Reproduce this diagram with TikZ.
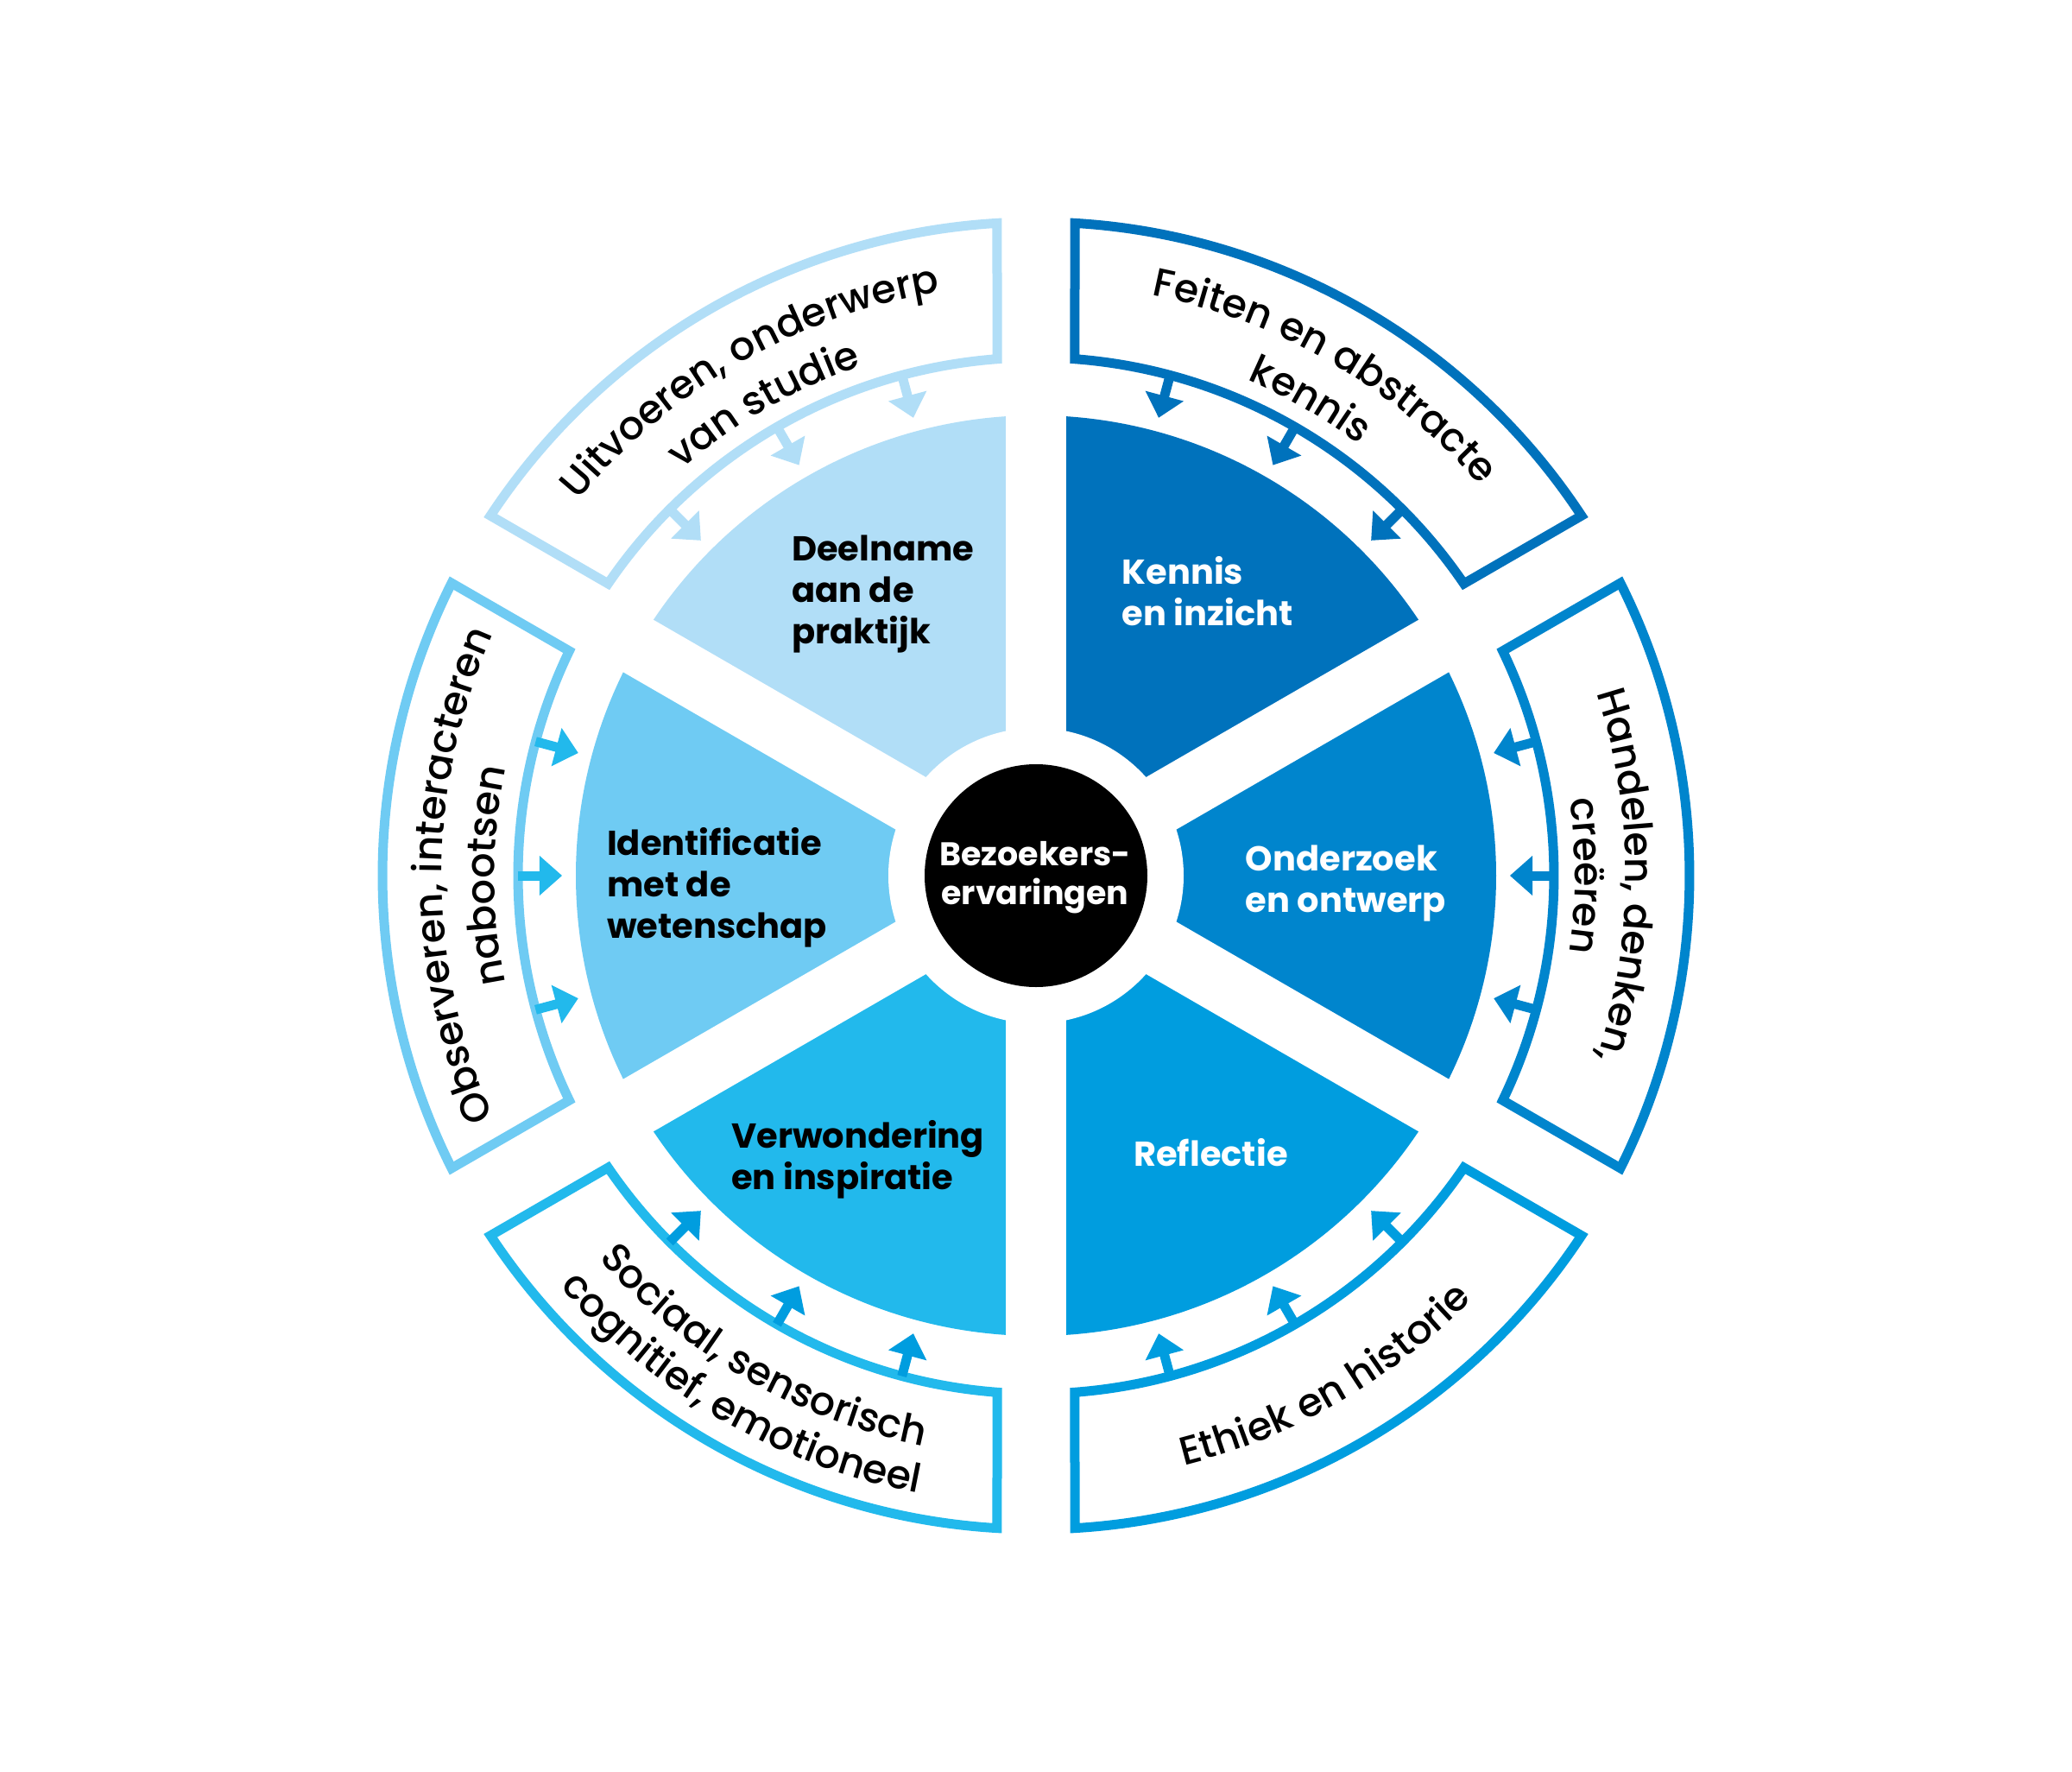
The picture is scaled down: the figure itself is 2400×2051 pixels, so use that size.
\documentclass[tikz,border=0pt]{standalone}
\usepackage{fontspec}
\setmainfont{Poppins}
\newfontfamily\ringfam{Poppins Medium}
\usetikzlibrary{decorations.text}
\definecolor{cA}{HTML}{B1DEF7}
\definecolor{cB}{HTML}{0072BC}
\definecolor{cC}{HTML}{0085CD}
\definecolor{cD}{HTML}{009DDF}
\definecolor{cE}{HTML}{22B9EC}
\definecolor{cF}{HTML}{6FCBF3}
\newcommand\wfont{\fontsize{40}{48}\selectfont\bfseries}
\newcommand\cfont{\fontsize{38}{45}\selectfont\bfseries}
\newcommand\bxf{\ringfam\fontsize{46}{56}\selectfont}
% sector: start angle, end angle, colour
\newcommand\sectorfill[3]{\fill[#3] (0,0) -- (#1:533pt) arc[start angle=#1, end angle=#2, radius=533pt] -- cycle;}
% outlined ring box centred on angle #1
\newcommand\ringbox[2]{\draw[boxline, draw=#2] ({#1-30+3.41}:757pt) arc[start angle={#1-30+3.41}, end angle={#1+30-3.41}, radius=757pt] -- ({#1+30-4.30}:600pt) arc[start angle={#1+30-4.30}, end angle={#1-30+4.30}, radius=600pt] -- cycle;}
% inward arrow at angle #1
\newcommand\inarrow[2]{\begin{scope}[rotate=#1]
\draw[#2, line width=11pt] (600pt,0) -- (572pt,0);
\fill[#2] (549pt,0) -- (575pt,23pt) -- (575pt,-23pt) -- cycle;
\end{scope}}
\tikzset{
  boxline/.style={line width=11pt, line join=miter},
  wlabel/.style={font=\wfont, align=left, anchor=base west, inner sep=0pt},
  clabel/.style={font=\cfont, align=center, anchor=base, inner sep=0pt, text=white},
}
\begin{document}
\begin{tikzpicture}
\useasboundingbox (-1200pt,-1037pt) rectangle (1200pt,1014pt);
\fill[white] (-1200pt,-1037pt) rectangle (1200pt,1014pt);
% sectors
\sectorfill{90}{150}{cA}
\sectorfill{30}{90}{cB}
\sectorfill{-30}{30}{cC}
\sectorfill{-90}{-30}{cD}
\sectorfill{210}{270}{cE}
\sectorfill{150}{210}{cF}
% gaps
\foreach \a in {90,30,150} \draw[white, line width=70pt] (\a:560pt) -- ({\a+180}:560pt);
\fill[white] (0,0) circle[radius=171pt];
\node[circle, fill=black, minimum size=258pt, inner sep=0pt] (core) at (0,0) {};
% (base anchor = baseline of the last line)
\node[clabel] (corelbl) at (-1pt,-33pt) {Bezoekers-\\ervaringen};
% sector labels
\node[wlabel] (deelname) at (-283pt,269pt) {Deelname\\aan de\\praktijk};
\node[wlabel, text=white] (kennis) at (99.5pt,290pt) {Kennis\\en inzicht};
\node[wlabel] (ident) at (-497pt,-72pt) {Identificatie\\met de\\wetenschap};
\node[wlabel, text=white] (onderzoek) at (242.6pt,-42.7pt) {Onderzoek\\en ontwerp};
\node[wlabel] (verw) at (-353pt,-363.5pt) {Verwondering\\en inspiratie};
\node[wlabel, text=white] (reflectie) at (113pt,-336pt) {Reflectie};
% ring boxes
\ringbox{120}{cA}
\ringbox{60}{cB}
\ringbox{0}{cC}
\ringbox{300}{cD}
\ringbox{240}{cE}
\ringbox{180}{cF}
% arrows
\foreach \a in {105,120,135} {\inarrow{\a}{cA}}
\foreach \a in {45,60,75} {\inarrow{\a}{cB}}
\foreach \a in {-15,0,15} {\inarrow{\a}{cC}}
\foreach \a in {285,300,315} {\inarrow{\a}{cD}}
\foreach \a in {225,240,255} {\inarrow{\a}{cD}}
\foreach \a in {165,180,195} {\inarrow{\a}{cE}}
% ring texts (outward tops: clockwise arcs)
\path[decorate, decoration={text along path, text align=center, text={|\bxf|Uitvoeren, onderwerp}}] (200:685pt) arc[start angle=200, end angle=40, radius=685pt];
\path[decorate, decoration={text along path, text align=center, text={|\bxf|van studie}}] (200:624pt) arc[start angle=200, end angle=40, radius=624pt];
\path[decorate, decoration={text along path, text align=center, text={|\bxf|Feiten en abstracte}}] (140:685pt) arc[start angle=140, end angle=-20, radius=685pt];
\path[decorate, decoration={text along path, text align=center, text={|\bxf|kennis}}] (140:624pt) arc[start angle=140, end angle=-20, radius=624pt];
\path[decorate, decoration={text along path, text align=center, text={|\bxf|Handelen, denken,}}] (80:683pt) arc[start angle=80, end angle=-80, radius=683pt];
\path[decorate, decoration={text along path, text align=center, text={|\bxf|creëren}}] (80:624pt) arc[start angle=80, end angle=-80, radius=624pt];
\path[decorate, decoration={text along path, text align=center, text={|\bxf|Observeren, interacteren}}] (260:688pt) arc[start angle=260, end angle=100, radius=688pt];
\path[decorate, decoration={text along path, text align=center, text={|\bxf|nabootsen}}] (260:627pt) arc[start angle=260, end angle=100, radius=627pt];
% ring texts (inward tops: counter-clockwise arcs)
\path[decorate, decoration={text along path, text align=center, text={|\bxf|Sociaal, sensorisch}}] (160:673pt) arc[start angle=160, end angle=320, radius=673pt];
\path[decorate, decoration={text along path, text align=center, text={|\bxf|cognitief, emotioneel}}] (160:728pt) arc[start angle=160, end angle=320, radius=728pt];
\path[decorate, decoration={text along path, text align=center, text={|\bxf|Ethiek en historie}}] (220:704pt) arc[start angle=220, end angle=380, radius=704pt];
\end{tikzpicture}
\end{document}
